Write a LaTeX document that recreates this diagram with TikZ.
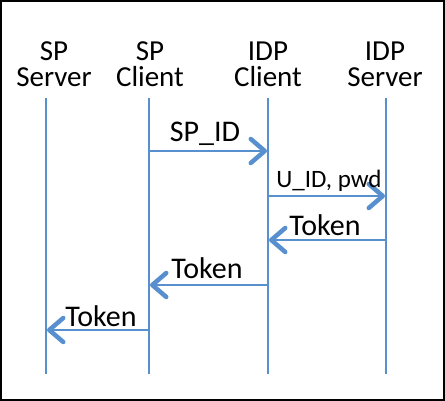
\documentclass[tikz,border=0pt]{standalone}
\usepackage{fontspec}
\setmainfont{Carlito}
\usetikzlibrary{arrows.meta}
\definecolor{lineblue}{RGB}{88,143,206}
\begin{document}
\begin{tikzpicture}[x=1pt,y=-1pt,
    actor/.style = {align=center, anchor=base, inner sep=0pt, font=\fontsize{29}{26}\selectfont},
    life/.style = {draw=lineblue, line width=1.5pt},
    msg/.style = {draw=lineblue, line width=1.5pt, -{Straight Barb[length=14pt,width=24pt,line width=4.5pt,round]}},
    lbl/.style = {anchor=base, inner sep=0pt, font=\fontsize{30}{32}\selectfont},
    small/.style = {anchor=base, inner sep=0pt, font=\fontsize{25}{27}\selectfont}]
    \useasboundingbox (0,0) rectangle (445,401);
    \draw[line width=1.5pt] (1,1) rectangle (444,400);

    % actors
    \node[actor] (sps) at (54,87) {SP\\Server};
    \node[actor] (spc) at (150,87) {SP\\Client};
    \node[actor] (idc) at (268,87) {IDP\\Client};
    \node[actor] (ids) at (385,87) {IDP\\Server};

    % lifelines
    \coordinate (sps top) at (46,98);  \coordinate (sps bot) at (46,374);
    \coordinate (spc top) at (149,98); \coordinate (spc bot) at (149,374);
    \coordinate (idc top) at (268,98); \coordinate (idc bot) at (268,374);
    \coordinate (ids top) at (386,98); \coordinate (ids bot) at (386,374);
    \draw[life] (sps top) -- (sps bot);
    \draw[life] (spc top) -- (spc bot);
    \draw[life] (idc top) -- (idc bot);
    \draw[life] (ids top) -- (ids bot);

    % messages
    \coordinate (m1a) at (149,151); \coordinate (m1b) at (267,151);
    \coordinate (m2a) at (268,196); \coordinate (m2b) at (385,196);
    \coordinate (m3a) at (386,240); \coordinate (m3b) at (269,240);
    \coordinate (m4a) at (268,285); \coordinate (m4b) at (150,285);
    \coordinate (m5a) at (149,330); \coordinate (m5b) at (47,330);
    \draw[msg] (m1a) -- (m1b);
    \draw[msg] (m2a) -- (m2b);
    \draw[msg] (m3a) -- (m3b);
    \draw[msg] (m4a) -- (m4b);
    \draw[msg] (m5a) -- (m5b);

    \node[lbl] (l1) at (205,142) {SP\_ID};
    \node[small] (l2) at (329,188) {U\_ID, pwd};
    \node[lbl] (l3) at (325,236) {Token};
    \node[lbl] (l4) at (207,278) {Token};
    \node[lbl] (l5) at (101,326) {Token};

\end{tikzpicture}
\end{document}
